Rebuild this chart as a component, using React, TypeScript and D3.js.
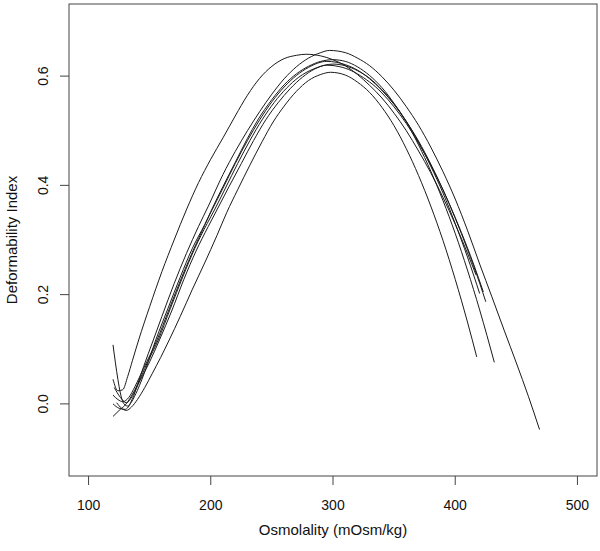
import React from 'react';
import * as d3 from 'd3';

// Deformability index vs osmolality, one trace per sample
const curveA: [number, number][] = [[120,0.045],[124,0.024],[128,0.026],[132,0.05],[136,0.08],[141,0.117],[150,0.178],[160,0.242],[170,0.3],[180,0.355],[190,0.405],[200,0.448],[210,0.487],[220,0.527],[230,0.565],[240,0.596],[250,0.618],[260,0.632],[270,0.638],[278,0.64],[290,0.637],[300,0.63],[310,0.619],[320,0.603],[330,0.583],[340,0.56],[350,0.532],[360,0.5],[370,0.463],[380,0.423],[390,0.378],[400,0.329],[410,0.276],[417,0.236]];
const curveB: [number, number][] = [[120,0.108],[122,0.075],[124,0.045],[126,0.02],[129,0.0],[132,-0.004],[136,0.01],[140,0.035],[145,0.068],[153,0.117],[160,0.16],[170,0.22],[180,0.275],[190,0.325],[198,0.362],[210,0.42],[220,0.462],[230,0.5],[240,0.535],[250,0.567],[260,0.595],[270,0.617],[280,0.633],[290,0.643],[297,0.647],[310,0.643],[320,0.633],[330,0.619],[340,0.599],[350,0.574],[360,0.544],[370,0.51],[380,0.47],[390,0.425],[400,0.375],[410,0.318],[420,0.256],[430,0.196],[440,0.135],[450,0.075],[460,0.013],[469,-0.047]];
const curveC: [number, number][] = [[120,0.0],[125,-0.008],[130,-0.01],[135,0.003],[140,0.025],[147,0.065],[155,0.117],[165,0.175],[175,0.232],[185,0.285],[195,0.328],[201,0.355],[210,0.395],[220,0.44],[230,0.482],[240,0.52],[250,0.553],[260,0.58],[270,0.601],[280,0.616],[295,0.627],[310,0.621],[320,0.611],[330,0.595],[340,0.574],[350,0.548],[360,0.517],[370,0.481],[380,0.439],[390,0.392],[400,0.34],[410,0.283],[420,0.221],[425,0.187]];
const curveD: [number, number][] = [[120,-0.023],[125,-0.012],[130,-0.002],[135,0.014],[140,0.035],[148,0.075],[157,0.117],[167,0.175],[177,0.232],[187,0.285],[197,0.33],[203,0.355],[212,0.395],[222,0.44],[232,0.482],[242,0.52],[252,0.552],[262,0.578],[272,0.598],[284,0.613],[300,0.622],[310,0.619],[320,0.61],[330,0.596],[340,0.575],[350,0.549],[360,0.517],[370,0.479],[380,0.435],[390,0.386],[400,0.33],[410,0.269],[420,0.202]];
const curveE: [number, number][] = [[120,0.016],[124,0.008],[128,0.004],[133,0.012],[138,0.032],[145,0.065],[156,0.117],[165,0.168],[175,0.225],[185,0.278],[195,0.327],[200,0.352],[210,0.398],[220,0.442],[230,0.486],[238,0.518],[250,0.557],[260,0.584],[270,0.604],[280,0.618],[290,0.627],[300,0.63],[310,0.627],[320,0.617],[330,0.601],[340,0.579],[350,0.55],[360,0.516],[370,0.474],[380,0.426],[390,0.372],[400,0.312],[410,0.245],[420,0.172],[432,0.076]];
const curveF: [number, number][] = [[121,0.03],[126,0.012],[131,0.002],[136,0.015],[142,0.042],[150,0.077],[158,0.117],[168,0.17],[178,0.228],[188,0.28],[198,0.325],[205,0.355],[215,0.398],[225,0.44],[235,0.482],[245,0.52],[255,0.551],[265,0.577],[275,0.598],[285,0.613],[295,0.62],[305,0.6175],[315,0.61],[325,0.597],[335,0.58],[345,0.557],[355,0.529],[365,0.496],[375,0.458],[385,0.415],[395,0.367],[405,0.314],[415,0.256],[423,0.205]];
const curveG: [number, number][] = [[123,0.002],[127,-0.008],[131,-0.012],[135,-0.006],[140,0.008],[146,0.03],[152,0.055],[159,0.085],[166,0.117],[175,0.16],[185,0.21],[195,0.258],[205,0.308],[213,0.35],[222,0.392],[232,0.437],[242,0.48],[251,0.516],[260,0.545],[270,0.572],[280,0.592],[290,0.603],[298,0.607],[310,0.602],[320,0.589],[330,0.57],[340,0.543],[350,0.509],[360,0.467],[370,0.418],[380,0.362],[390,0.299],[400,0.228],[410,0.15],[417.6,0.086]];

const curves = [curveA, curveB, curveC, curveD, curveE, curveF, curveG];

const xTicks = [100, 200, 300, 400, 500];
const yTicks = [0.0, 0.2, 0.4, 0.6];
const xLabel = 'Osmolality (mOsm/kg)';
const yLabel = 'Deformability Index';

const W = 600;
const H = 551;
const plot = { left: 69, right: 597, top: 4, bottom: 476 };
const font = '"Liberation Sans", Arial, sans-serif';

export default function App() {
  // R-style 4% padding around xlim = c(100, 500), ylim = c(-0.1, 0.7)
  const x = d3.scaleLinear().domain([84, 516]).range([plot.left, plot.right]);
  const y = d3.scaleLinear().domain([-0.132, 0.732]).range([plot.bottom, plot.top]);

  const line = d3.line<[number, number]>()
    .x(d => x(d[0]))
    .y(d => y(d[1]))
    .curve(d3.curveMonotoneX);

  const midY = (plot.top + plot.bottom) / 2;
  const midX = (plot.left + plot.right) / 2;

  return (
    <svg width={W} height={H} style={{ position: 'absolute', left: 0, top: 0, background: '#fff' }}>
      <rect x={plot.left} y={plot.top} width={plot.right - plot.left} height={plot.bottom - plot.top}
        fill="none" stroke="#444" strokeWidth={1} />

      {curves.map((c, i) => (
        <path key={i} d={line(c) || ''} fill="none" stroke="#1a1a1a" strokeWidth={1} />
      ))}

      {/* x axis */}
      {xTicks.map(t => (
        <g key={t}>
          <line x1={x(t)} x2={x(t)} y1={plot.bottom} y2={plot.bottom + 9} stroke="#444" />
          <text x={x(t)} y={510} textAnchor="middle" fontFamily={font} fontSize={14} fill="#111">{t}</text>
        </g>
      ))}
      <text x={midX} y={535} textAnchor="middle" fontFamily={font} fontSize={15} fill="#111">{xLabel}</text>

      {/* y axis */}
      {yTicks.map(t => (
        <g key={t}>
          <line x1={plot.left - 9} x2={plot.left} y1={y(t)} y2={y(t)} stroke="#444" />
          <text transform={`translate(48,${y(t)}) rotate(-90)`} textAnchor="middle"
            fontFamily={font} fontSize={14} fill="#111">{t.toFixed(1)}</text>
        </g>
      ))}
      <text transform={`translate(17,${midY}) rotate(-90)`} textAnchor="middle"
        fontFamily={font} fontSize={15} fill="#111">{yLabel}</text>
    </svg>
  );
}
